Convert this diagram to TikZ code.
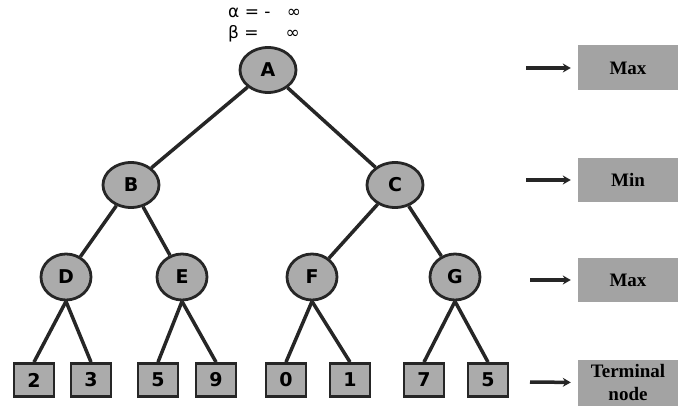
\documentclass[tikz,border=0pt]{standalone}
\usepackage{fontspec}
\usetikzlibrary{arrows.meta,shapes.geometric}
\newfontfamily\nodefont{DejaVu Sans}
\newfontfamily\lblfont{Liberation Serif}
\begin{document}
\begin{tikzpicture}[x=1pt,y=-1pt,
  tnode/.style={ellipse,draw=black!85,line width=2.8pt,fill=black!33,
    minimum width=50pt,minimum height=46pt,inner sep=0pt,
    font=\nodefont\bfseries\fontsize{19}{22}\selectfont},
  bignode/.style={tnode,minimum width=56pt,minimum height=45pt},
  leaf/.style={rectangle,draw=black!85,line width=2.8pt,fill=black!33,
    minimum width=40pt,minimum height=33pt,inner sep=0pt,
    font=\nodefont\bfseries\fontsize{19}{22}\selectfont},
  edge/.style={draw=black!85,line width=3.5pt},
  lvl/.style={rectangle,fill=black!36,minimum width=100pt,inner sep=0pt,
    align=center,font=\lblfont\bfseries\fontsize{19}{23}\selectfont},
  lvarrow/.style={draw=black!85,line width=3.5pt,-{Stealth[length=8pt,width=9pt]},shorten >=7pt},
  ab/.style={anchor=west,inner sep=0pt,font=\nodefont\fontsize{17}{20}\selectfont}
]
\useasboundingbox (0,0) rectangle (678,406);

% alpha beta
\node[ab] (alpha) at (228,13) {α = -\ \ \ ∞};
\node[ab] (beta) at (228,34) {β =\ \ \ \ \ ∞};

% internal nodes
\node[bignode] (A) at (268,70) {A};
\node[bignode] (B) at (131,185) {B};
\node[bignode] (C) at (395,185) {C};
\node[tnode] (D) at (66,277) {D};
\node[tnode] (E) at (182,277) {E};
\node[tnode] (F) at (312,277) {F};
\node[tnode] (G) at (455,277) {G};

% leaves
\node[leaf] (l1) at (34,380) {2};
\node[leaf] (l2) at (91,380) {3};
\node[leaf] (l3) at (158,380) {5};
\node[leaf] (l4) at (216,380) {9};
\node[leaf] (l5) at (286,380) {0};
\node[leaf] (l6) at (350,380) {1};
\node[leaf] (l7) at (424,380) {7};
\node[leaf] (l8) at (488,380) {5};

% edges
\draw[edge] (A) -- (B);
\draw[edge] (A) -- (C);
\draw[edge] (B) -- (D);
\draw[edge] (B) -- (E);
\draw[edge] (C) -- (F);
\draw[edge] (C) -- (G);
\draw[edge] (D.south) -- (l1.north);
\draw[edge] (D.south) -- (l2.north);
\draw[edge] (E.south) -- (l3.north);
\draw[edge] (E.south) -- (l4.north);
\draw[edge] (F.south) -- (l5.north);
\draw[edge] (F.south) -- (l6.north);
\draw[edge] (G.south) -- (l7.north);
\draw[edge] (G.south) -- (l8.north);

% level labels
\node[lvl,minimum height=45pt] (m1) at (628,68) {Max};
\node[lvl,minimum height=44pt] (m2) at (628,180) {Min};
\node[lvl,minimum height=44pt] (m3) at (628,280) {Max};
\node[lvl,minimum height=46pt] (m4) at (628,383) {Terminal\\node};

\coordinate (s1) at (526,68);
\coordinate (s2) at (526,180);
\coordinate (s3) at (530,280);
\coordinate (s4) at (530,382);
\draw[lvarrow] (s1) -- (m1);
\draw[lvarrow] (s2) -- (m2);
\draw[lvarrow] (s3) -- (m3);
\draw[lvarrow] (s4) -- (m4);
\end{tikzpicture}
\end{document}
